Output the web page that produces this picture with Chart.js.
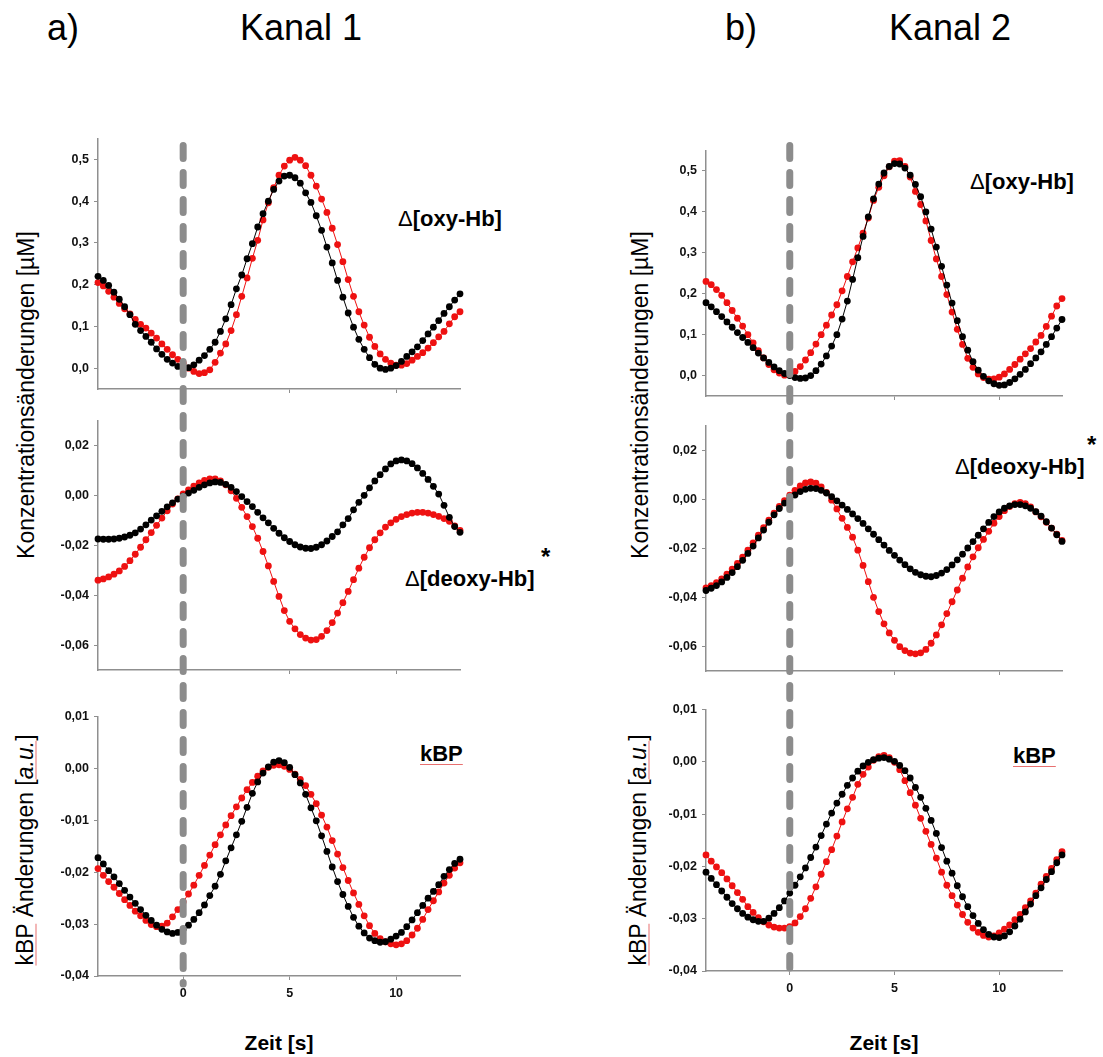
<!DOCTYPE html>
<html>
<head>
<meta charset="utf-8">
<script src="https://cdn.jsdelivr.net/npm/chart.js@4.4.1/dist/chart.umd.min.js"></script>
<style>
  body { margin: 0; background: #fff; font-family: "Liberation Sans", Arial, sans-serif; }
  #page { position: relative; width: 1103px; height: 1057px; overflow: hidden; background: #fff; }
  .panel { position: absolute; }
  .txt { position: absolute; white-space: nowrap; color: #000; line-height: 1; }
  .title { font-size: 36px; transform: translate(-50%, -50%); }
  .ylab { font-size: 23px; transform: translate(-50%, -50%) rotate(-90deg); }
  .xlab { font-size: 21px; font-weight: bold; transform: translate(-50%, -50%); }
  .tag { font-size: 22px; font-weight: bold; }
  .tag .d { font-weight: normal; }
  .star { font-size: 24px; font-weight: bold; }
  .spell { text-decoration: underline; text-decoration-color: #e87070; text-decoration-thickness: 1px; text-underline-offset: 3px; }
  #overlay { position: absolute; left: 0; top: 0; pointer-events: none; }
</style>
</head>
<body>
<div id="page">
  <div class="txt title" style="left:63px; top:28px;">a)</div>
  <div class="txt title" style="left:301px; top:28px;">Kanal 1</div>
  <div class="txt title" style="left:741px; top:28px;">b)</div>
  <div class="txt title" style="left:950px; top:28px;">Kanal 2</div>

  <div class="txt ylab" style="left:26px; top:395px;">Konzentrationsänderungen [µM]</div>
  <div class="txt ylab" style="left:640px; top:395px;">Konzentrationsänderungen [µM]</div>
  <div class="txt ylab" style="left:25px; top:850px;"><span class="spell">kBP</span> Änderungen [<i class="spell">a.u.</i>]</div>
  <div class="txt ylab" style="left:638px; top:850px;"><span class="spell">kBP</span> Änderungen [<i class="spell">a.u.</i>]</div>

  <div class="txt xlab" style="left:279px; top:1042px;">Zeit [s]</div>
  <div class="txt xlab" style="left:884px; top:1042px;">Zeit [s]</div>

  <div class="txt tag" style="left:398px; top:208px;"><span class="d">Δ</span>[oxy-Hb]</div>
  <div class="txt tag" style="left:970px; top:171px;"><span class="d">Δ</span>[oxy-Hb]</div>
  <div class="txt tag" style="left:405px; top:568px;"><span class="d">Δ</span>[deoxy-Hb]</div>
  <div class="txt star" style="left:541px; top:545px;">*</div>
  <div class="txt tag" style="left:955px; top:456px;"><span class="d">Δ</span>[deoxy-Hb]</div>
  <div class="txt star" style="left:1087px; top:433px;">*</div>
  <div class="txt tag spell" style="left:420px; top:743px;">kBP</div>
  <div class="txt tag spell" style="left:1013px; top:745px;">kBP</div>
</div>

<script>
///////////   DATA  /////////////////

// time axis [s], 0.25 s sampling
const time = [
  -4, -3.75, -3.5, -3.25, -3, -2.75, -2.5, -2.25,
  -2, -1.75, -1.5, -1.25, -1, -0.75, -0.5, -0.25,
  0, 0.25, 0.5, 0.75, 1, 1.25, 1.5, 1.75,
  2, 2.25, 2.5, 2.75, 3, 3.25, 3.5, 3.75,
  4, 4.25, 4.5, 4.75, 5, 5.25, 5.5, 5.75,
  6, 6.25, 6.5, 6.75, 7, 7.25, 7.5, 7.75,
  8, 8.25, 8.5, 8.75, 9, 9.25, 9.5, 9.75,
  10, 10.25, 10.5, 10.75, 11, 11.25, 11.5, 11.75,
  12, 12.25, 12.5, 12.75, 13
];

const onset = 0;
const timeTicks = [0, 5, 10];
const oxyTicks = [0, 0.1, 0.2, 0.3, 0.4, 0.5];
const deoxyTicks = [-0.06, -0.04, -0.02, 0, 0.02];
const kbpTicks = [-0.04, -0.03, -0.02, -0.01, 0, 0.01];

// Kanal 1
const oxy1Black = [
  0.22, 0.21, 0.198, 0.182, 0.165, 0.147, 0.128, 0.105,
  0.09, 0.076, 0.062, 0.046, 0.033, 0.021, 0.012, 0.004,
  0.0, 0.001, 0.008, 0.019, 0.03, 0.045, 0.062, 0.088,
  0.118, 0.152, 0.19, 0.223, 0.262, 0.298, 0.338, 0.37,
  0.4, 0.428, 0.448, 0.46, 0.462, 0.456, 0.443, 0.42,
  0.397, 0.365, 0.33, 0.29, 0.252, 0.21, 0.17, 0.132,
  0.098, 0.069, 0.045, 0.025, 0.009, 0.0, -0.003, 0.0,
  0.006, 0.016, 0.028, 0.039, 0.051, 0.066, 0.082, 0.098,
  0.114, 0.131, 0.147, 0.163, 0.178
];
const oxy1Red = [
  0.205, 0.197, 0.184, 0.17, 0.155, 0.142, 0.13, 0.117,
  0.105, 0.096, 0.084, 0.072, 0.058, 0.045, 0.032, 0.021,
  0.012, 0.0, -0.008, -0.013, -0.011, -0.004, 0.014, 0.036,
  0.058, 0.09, 0.128, 0.172, 0.216, 0.263, 0.306, 0.355,
  0.396, 0.432, 0.462, 0.484, 0.498, 0.505, 0.498, 0.485,
  0.462, 0.436, 0.405, 0.373, 0.335, 0.296, 0.255, 0.212,
  0.172, 0.135, 0.103, 0.074, 0.052, 0.034, 0.021, 0.012,
  0.007, 0.007, 0.011, 0.019, 0.028, 0.037, 0.048, 0.061,
  0.075, 0.088, 0.106, 0.123, 0.135
];
const deoxy1Black = [
  -0.0175, -0.0176, -0.0176, -0.0175, -0.0172, -0.0167, -0.016, -0.015,
  -0.0135, -0.0118, -0.0099, -0.0082, -0.0064, -0.0046, -0.003, -0.0015,
  -0.0003, 0.0009, 0.002, 0.0032, 0.0042, 0.005, 0.0054, 0.0052,
  0.0044, 0.0032, 0.0015, -0.0005, -0.0025, -0.0045, -0.0068, -0.009,
  -0.011, -0.0132, -0.0152, -0.017, -0.0185, -0.0198, -0.0207, -0.0212,
  -0.0213, -0.0208, -0.0198, -0.0183, -0.0165, -0.0146, -0.0118, -0.0093,
  -0.0058, -0.0028, 0.0, 0.003, 0.0058, 0.0083, 0.0106, 0.0126,
  0.0138, 0.0142, 0.0138, 0.0127, 0.011, 0.0088, 0.0064, 0.0036,
  0.0005, -0.004, -0.0088, -0.0125, -0.0148
];
const deoxy1Red = [
  -0.034, -0.0335, -0.0327, -0.0316, -0.0303, -0.0285, -0.0262, -0.0236,
  -0.0208, -0.0178, -0.0149, -0.012, -0.0091, -0.0062, -0.0035, -0.0014,
  0.0006, 0.0022, 0.0037, 0.005, 0.006, 0.0066, 0.0066, 0.0058,
  0.0042, 0.0018, -0.0012, -0.0048, -0.0085, -0.0125, -0.0172, -0.0225,
  -0.0283, -0.0345, -0.0405, -0.0462, -0.0505, -0.0535, -0.0558, -0.0572,
  -0.058, -0.0578, -0.0565, -0.0542, -0.051, -0.0472, -0.043, -0.0385,
  -0.0338, -0.0292, -0.0248, -0.021, -0.0178, -0.015, -0.0127, -0.011,
  -0.0096, -0.0085, -0.0077, -0.0071, -0.0068, -0.0068, -0.0071, -0.0077,
  -0.0084, -0.0093, -0.0104, -0.0122, -0.014
];
const kbp1Black = [
  -0.0172, -0.0184, -0.0197, -0.0209, -0.0222, -0.0235, -0.0248, -0.026,
  -0.0272, -0.0283, -0.0293, -0.0302, -0.031, -0.0315, -0.0318, -0.0316,
  -0.031, -0.0302, -0.0291, -0.0278, -0.0263, -0.0245, -0.0227, -0.0204,
  -0.0178, -0.0153, -0.0128, -0.0102, -0.0075, -0.0048, -0.0026, -0.0009,
  0.0003, 0.0012, 0.0015, 0.0011, 0.0002, -0.0012, -0.0028, -0.005,
  -0.0076, -0.0101, -0.013, -0.016, -0.019, -0.0218, -0.0243, -0.0266,
  -0.0287, -0.0304, -0.0317, -0.0327, -0.0332, -0.0335, -0.0334, -0.0329,
  -0.0323, -0.0316, -0.0305, -0.0292, -0.0278, -0.0264, -0.025, -0.0237,
  -0.0224, -0.0208, -0.0195, -0.0183, -0.0175
];
const kbp1Red = [
  -0.0193, -0.0206, -0.0218, -0.0229, -0.0241, -0.0253, -0.0264, -0.0275,
  -0.0284, -0.0293, -0.0301, -0.0305, -0.0304, -0.0298, -0.0286, -0.0272,
  -0.0257, -0.0242, -0.0225, -0.0206, -0.0187, -0.0167, -0.0147, -0.0128,
  -0.0109, -0.0091, -0.0074, -0.0057, -0.0041, -0.0027, -0.0015, -0.0005,
  0.0002, 0.0006, 0.0007, 0.0004, -0.0002, -0.0011, -0.0021, -0.0033,
  -0.005, -0.0068, -0.009, -0.0113, -0.0139, -0.0165, -0.0191, -0.0216,
  -0.024, -0.0262, -0.0284, -0.0303, -0.0318, -0.0328, -0.0334, -0.0338,
  -0.034, -0.0338, -0.0332, -0.0321, -0.0308, -0.0291, -0.0272, -0.0255,
  -0.0238, -0.0221, -0.0206, -0.0192, -0.0182
];

// Kanal 2
const oxy2Black = [
  0.178, 0.168, 0.156, 0.144, 0.131, 0.118, 0.105, 0.093,
  0.081, 0.068, 0.055, 0.043, 0.032, 0.021, 0.012, 0.005,
  0.0, -0.005, -0.007, -0.006, 0.0, 0.012, 0.028, 0.048,
  0.072, 0.1, 0.138, 0.182, 0.235, 0.288, 0.34, 0.388,
  0.432, 0.468, 0.495, 0.511, 0.518, 0.517, 0.507, 0.49,
  0.467, 0.437, 0.4, 0.358, 0.314, 0.267, 0.221, 0.177,
  0.134, 0.095, 0.062, 0.034, 0.013, -0.002, -0.013, -0.02,
  -0.024, -0.023, -0.017, -0.008, 0.003, 0.015, 0.029, 0.043,
  0.058, 0.076, 0.095, 0.116, 0.137
];
const oxy2Red = [
  0.23, 0.222, 0.21, 0.196, 0.178, 0.159, 0.14, 0.121,
  0.1, 0.08, 0.061, 0.043, 0.027, 0.014, 0.006, 0.001,
  0.002, 0.01, 0.022, 0.038, 0.056, 0.077, 0.1, 0.123,
  0.148, 0.173, 0.207, 0.242, 0.278, 0.312, 0.348, 0.385,
  0.428, 0.46, 0.488, 0.51, 0.524, 0.525, 0.511, 0.485,
  0.45, 0.418, 0.378, 0.33, 0.285, 0.242, 0.198, 0.155,
  0.113, 0.076, 0.042, 0.02, 0.004, -0.005, -0.009, -0.008,
  -0.004, 0.004, 0.015, 0.027, 0.04, 0.053, 0.066, 0.082,
  0.098, 0.12, 0.145, 0.17, 0.188
];
const deoxy2Black = [
  -0.0372, -0.0363, -0.0352, -0.0337, -0.0319, -0.0299, -0.0275, -0.0249,
  -0.0221, -0.0191, -0.0158, -0.0126, -0.0094, -0.0064, -0.0038, -0.0016,
  0.0001, 0.0017, 0.0031, 0.004, 0.0044, 0.0043, 0.0036, 0.0025,
  0.001, -0.0007, -0.0024, -0.0042, -0.006, -0.0079, -0.0099, -0.0121,
  -0.0143, -0.0165, -0.0187, -0.0209, -0.0229, -0.0248, -0.0267, -0.0284,
  -0.0298, -0.0308, -0.0314, -0.0316, -0.0311, -0.0301, -0.0287, -0.0268,
  -0.0247, -0.0224, -0.0199, -0.0173, -0.0147, -0.0121, -0.0095, -0.0071,
  -0.0052, -0.0037, -0.0027, -0.0022, -0.0022, -0.0027, -0.0037, -0.0051,
  -0.0069, -0.0092, -0.0118, -0.0145, -0.0172
];
const deoxy2Red = [
  -0.0362, -0.0352, -0.034, -0.0325, -0.0306, -0.0285, -0.0262, -0.0236,
  -0.0208, -0.0178, -0.0147, -0.0116, -0.0086, -0.0057, -0.003, -0.0006,
  0.0016, 0.0036, 0.0054, 0.0066, 0.007, 0.0065, 0.005, 0.0027,
  -0.0004, -0.004, -0.0078, -0.0115, -0.0155, -0.0208, -0.027, -0.0336,
  -0.04, -0.0458, -0.0508, -0.0545, -0.0575, -0.0601, -0.0617, -0.0627,
  -0.063, -0.0626, -0.0612, -0.0587, -0.0553, -0.0512, -0.0466, -0.0418,
  -0.037, -0.0322, -0.0276, -0.0235, -0.0198, -0.0164, -0.0131, -0.0098,
  -0.0071, -0.0047, -0.003, -0.0018, -0.0013, -0.0018, -0.0032, -0.0052,
  -0.0072, -0.0094, -0.0118, -0.0143, -0.0168
];
const kbp2Black = [
  -0.0211, -0.0223, -0.0235, -0.0247, -0.0259, -0.0271, -0.0281, -0.029,
  -0.0297, -0.0302, -0.0305, -0.0305, -0.0299, -0.029, -0.0279, -0.0266,
  -0.0251, -0.0236, -0.022, -0.0203, -0.0183, -0.0163, -0.0141, -0.0119,
  -0.0098, -0.0079, -0.0062, -0.0045, -0.0031, -0.0018, -0.0008, -0.0001,
  0.0004, 0.0007, 0.0008, 0.0005, 0.0001, -0.0007, -0.0017, -0.0031,
  -0.0049, -0.0068, -0.0089, -0.0112, -0.0137, -0.0164, -0.019, -0.0213,
  -0.0237, -0.0258, -0.0277, -0.0294, -0.0309, -0.0321, -0.033, -0.0335,
  -0.0336, -0.0333, -0.0325, -0.0314, -0.0301, -0.0287, -0.0272, -0.0256,
  -0.0241, -0.0225, -0.021, -0.0193, -0.0178
];
const kbp2Red = [
  -0.0178, -0.019, -0.0201, -0.0212, -0.0224, -0.0237, -0.025, -0.0263,
  -0.0277, -0.0288, -0.0298, -0.0306, -0.0312, -0.0316, -0.0318, -0.0318,
  -0.0315, -0.0308, -0.0296, -0.0281, -0.0261, -0.0239, -0.0215, -0.0191,
  -0.0168, -0.0142, -0.0115, -0.009, -0.0068, -0.0043, -0.0024, -0.001,
  0.0003, 0.001, 0.0012, 0.0008, -0.0001, -0.0015, -0.0036, -0.0059,
  -0.0083, -0.0108, -0.0133, -0.0158, -0.0184, -0.0211, -0.0236, -0.0256,
  -0.0274, -0.0292, -0.0307, -0.0318, -0.0326, -0.0332, -0.0335, -0.0333,
  -0.0327, -0.032, -0.0312, -0.0302, -0.0292, -0.0279, -0.0266, -0.0251,
  -0.0234, -0.0219, -0.0204, -0.0187, -0.0172
];


///////////   LAYOUT / STYLE  /////////////////

const page = document.querySelector("#page");
const axisGray = "#8f8f8f";
const blackColor = "#000000";
const redColor = "#ee1111";
const tickFont = { family: "'Liberation Sans', Arial, sans-serif", size: 12.5, weight: "bold" };

const yAxisW = 60;
const xAxisH = 30;
const padTop = 8;
const padRight = 10;

const panels = [
  { left: 98, top: 134, width: 362, height: 255, yMin: -0.05, yMax: 0.55, yTicks: oxyTicks, dec: 1, black: oxy1Black, red: oxy1Red, xLabels: false },
  { left: 98, top: 416, width: 362, height: 254, yMin: -0.07, yMax: 0.03, yTicks: deoxyTicks, dec: 2, black: deoxy1Black, red: deoxy1Red, xLabels: false },
  { left: 98, top: 712, width: 362, height: 264, yMin: -0.04, yMax: 0.01, yTicks: kbpTicks, dec: 2, black: kbp1Black, red: kbp1Red, xLabels: true },
  { left: 706, top: 146, width: 356, height: 250, yMin: -0.05, yMax: 0.55, yTicks: oxyTicks, dec: 1, black: oxy2Black, red: oxy2Red, xLabels: false },
  { left: 706, top: 421, width: 356, height: 250, yMin: -0.07, yMax: 0.03, yTicks: deoxyTicks, dec: 2, black: deoxy2Black, red: deoxy2Red, xLabels: false },
  { left: 706, top: 705, width: 356, height: 266, yMin: -0.04, yMax: 0.01, yTicks: kbpTicks, dec: 2, black: kbp2Black, red: kbp2Red, xLabels: true }
];


///////////   PANELS  /////////////////

function series(values, color) {
  return {
    data: time.map((t, i) => ({ x: t, y: values[i] })),
    borderColor: color,
    backgroundColor: color,
    pointBackgroundColor: color,
    borderWidth: 1,
    pointRadius: 3.4,
    pointBorderWidth: 0,
    tension: 0,
    clip: false
  };
}

function makePanel(p) {
  const wrap = document.createElement("div");
  wrap.className = "panel";
  const w = p.width + yAxisW + padRight;
  const h = p.height + padTop + xAxisH;
  wrap.style.left = (p.left - yAxisW) + "px";
  wrap.style.top = (p.top - padTop) + "px";
  wrap.style.width = w + "px";
  wrap.style.height = h + "px";
  const canvas = document.createElement("canvas");
  canvas.width = w;
  canvas.height = h;
  wrap.appendChild(canvas);
  page.appendChild(wrap);

  const chart = new Chart(canvas, {
    type: "line",
    data: {
      datasets: [series(p.black, blackColor), series(p.red, redColor)]
    },
    options: {
      responsive: false,
      animation: false,
      events: [],
      layout: { padding: { top: padTop, right: padRight, left: 0, bottom: 0 }, autoPadding: false },
      plugins: { legend: { display: false }, tooltip: { enabled: false } },
      scales: {
        x: {
          type: "linear",
          min: -4,
          max: 13,
          afterFit: (s) => { s.height = xAxisH; },
          afterBuildTicks: (s) => { s.ticks = timeTicks.map(v => ({ value: v })); },
          grid: { drawOnChartArea: false, drawTicks: true, tickLength: 4, color: axisGray, lineWidth: 1 },
          border: { display: true, color: axisGray, width: 1.5 },
          ticks: { display: p.xLabels, font: tickFont, color: "#111", padding: 6, maxRotation: 0 }
        },
        y: {
          type: "linear",
          min: p.yMin,
          max: p.yMax,
          afterFit: (s) => { s.width = yAxisW; },
          afterBuildTicks: (s) => { s.ticks = p.yTicks.map(v => ({ value: v })); },
          grid: { drawOnChartArea: false, drawTicks: true, tickLength: 4, color: axisGray, lineWidth: 1 },
          border: { display: true, color: axisGray, width: 1.5 },
          ticks: {
            font: tickFont,
            color: "#111",
            padding: 5,
            callback: (v) => Number(v).toFixed(p.dec).replace(".", ",")
          }
        }
      }
    }
  });
  return { chart: chart, wrap: wrap };
}

const made = panels.map(makePanel);


///////////   STIMULUS ONSET LINE  /////////////////

const overlay = document.createElement("canvas");
overlay.id = "overlay";
overlay.width = 1103;
overlay.height = 1057;
page.appendChild(overlay);
const octx = overlay.getContext("2d");

function onsetLine(topPanel, bottomPanel, topShift, bottomShift) {
  const x = bottomPanel.wrap.offsetLeft + bottomPanel.chart.scales.x.getPixelForValue(onset);
  const y0 = topPanel.wrap.offsetTop + topPanel.chart.chartArea.top + topShift;
  const y1 = bottomPanel.wrap.offsetTop + bottomPanel.chart.chartArea.bottom + bottomShift;
  octx.save();
  octx.strokeStyle = "#8c8c8c";
  octx.lineWidth = 7;
  octx.lineCap = "round";
  octx.setLineDash([13, 14]);
  octx.beginPath();
  octx.moveTo(x, y0);
  octx.lineTo(x, y1);
  octx.stroke();
  octx.restore();
}

onsetLine(made[0], made[2], 7, 8);
onsetLine(made[3], made[5], -5, -3);
</script>
</body>
</html>
